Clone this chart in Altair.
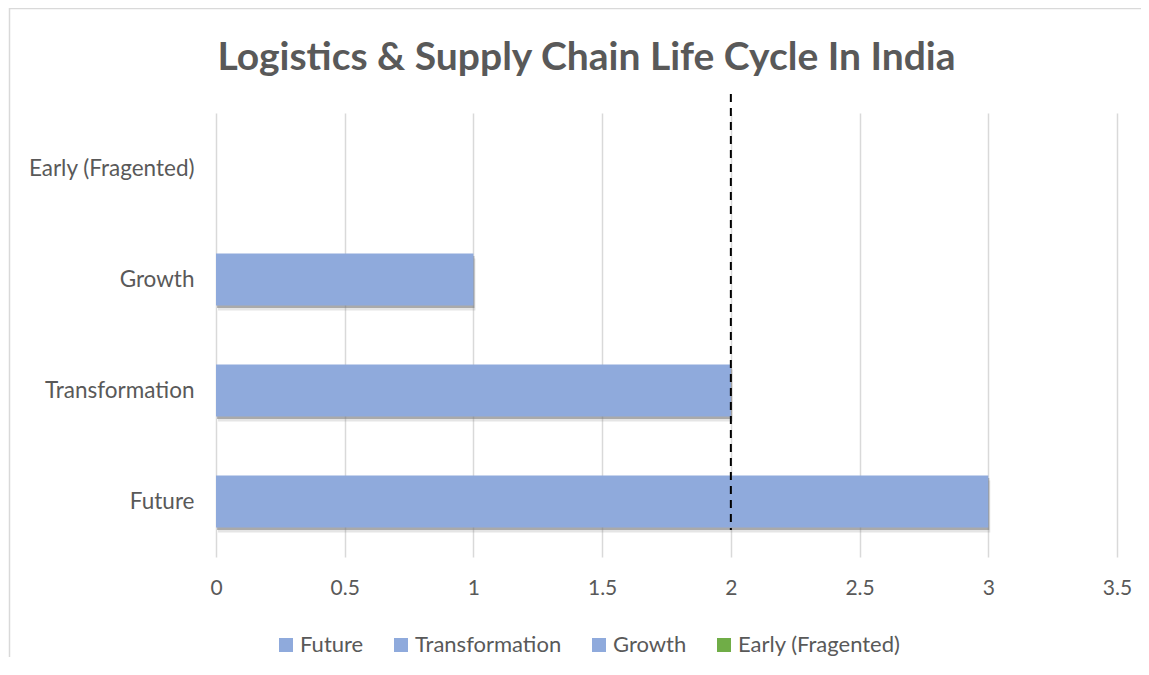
import altair as alt
import pandas as pd

categories = ["Early (Fragented)", "Growth", "Transformation", "Future"]
values = [0, 1, 2, 3]
legend_order = ["Future", "Transformation", "Growth", "Early (Fragented)"]
legend_colors = ["#8FAADC", "#8FAADC", "#8FAADC", "#70AD47"]
reference_line = [2]
x_ticks = [0, 0.5, 1, 1.5, 2, 2.5, 3, 3.5]

df = pd.DataFrame({"stage": categories, "value": values})
ref = pd.DataFrame({"x": reference_line})

FONT = "Lato"
TXT = "#595959"

y_enc = alt.Y("stage:N", sort=categories, title=None,
              scale=alt.Scale(paddingInner=0.53, paddingOuter=0.265),
              axis=alt.Axis(domain=False, ticks=False, labelPadding=22,
                            labelFontSize=22.5, labelColor=TXT, labelFont=FONT))
x_enc = alt.X("value:Q", title=None,
              scale=alt.Scale(domain=[0, 3.5], nice=False),
              axis=alt.Axis(values=x_ticks, format="~g", domain=False, ticks=False,
                            grid=True, gridColor="#d9d9d9", gridWidth=1.5,
                            labelPadding=20, labelFontSize=21, labelColor=TXT,
                            labelFont=FONT, labelFlush=False))

frame = alt.Chart(ref).mark_rect(fill=None, stroke="#d9d9d9", strokeWidth=1.5, clip=False).encode(
    x=alt.value(-206.5), x2=alt.value(1200), y=alt.value(-104.5), y2=alt.value(800))

shadow_soft = alt.Chart(df).mark_bar(color="#7f7f7f", opacity=0.2, yOffset=5, xOffset=2).encode(
    x=x_enc, y=y_enc)
shadow = alt.Chart(df).mark_bar(color="#6f6f6f", opacity=0.5, yOffset=2.5, xOffset=1).encode(
    x=x_enc, y=y_enc)

bars = alt.Chart(df).mark_bar().encode(
    x=x_enc, y=y_enc,
    color=alt.Color("stage:N", title=None,
                    scale=alt.Scale(domain=legend_order, range=legend_colors),
                    legend=alt.Legend(orient="none", direction="horizontal",
                                      legendX=59, legendY=521,
                                      symbolType="square", symbolSize=196,
                                      symbolStrokeWidth=0, labelFontSize=22,
                                      labelColor=TXT, labelFont=FONT, labelLimit=400,
                                      columnPadding=26, labelOffset=3)))

rule = alt.Chart(ref).mark_rule(color="black", strokeWidth=2, strokeDash=[8, 6], clip=False).encode(
    x=alt.X("x:Q"), y=alt.value(-19), y2=alt.value(417))

chart = alt.layer(frame, shadow_soft, shadow, bars, rule).properties(
    width=901, height=444,
    autosize=alt.AutoSizeParams(type="none"),
    padding={"left": 208, "top": 105, "right": 24, "bottom": 100},
    title=alt.TitleParams("Logistics & Supply Chain Life Cycle In India",
                          fontSize=39, font=FONT, fontWeight="bold", color=TXT,
                          anchor="middle", frame="group", dx=-80, offset=0, dy=70),
).configure_view(stroke=None)

chart.save("out.html", embed_options={"renderer": "svg", "actions": False})
